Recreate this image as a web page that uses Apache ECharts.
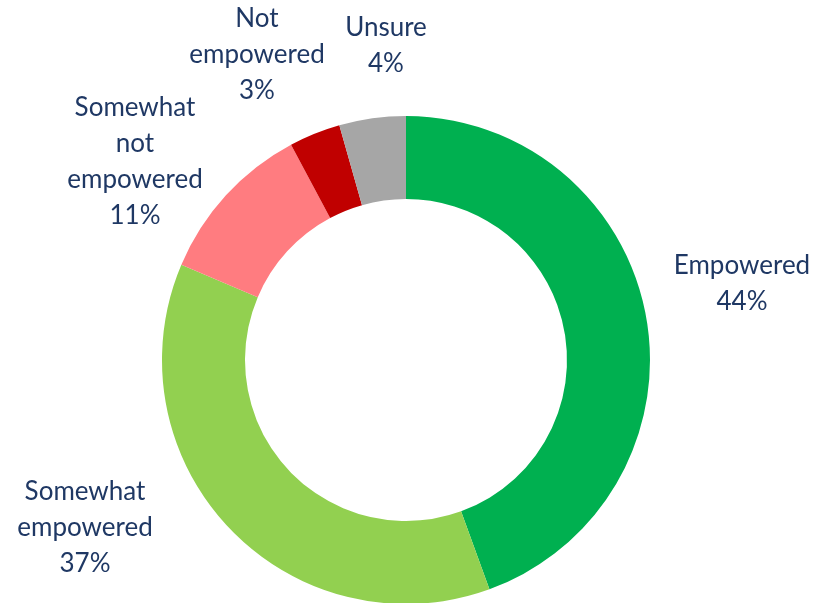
<!DOCTYPE html>
<html><head><meta charset="utf-8">
<script src="https://cdn.jsdelivr.net/npm/echarts@6/dist/echarts.min.js"></script>
<style>html,body{margin:0;padding:0;background:#fff}#c{width:813px;height:603px}</style>
</head><body><div id="c"></div>
<script>
const categories = ['Empowered', 'Somewhat empowered', 'Somewhat not empowered', 'Not empowered', 'Unsure'];
const labelNames = ['Empowered', 'Somewhat\nempowered', 'Somewhat\nnot\nempowered', 'Not\nempowered', 'Unsure'];
const values = [44.4, 36.9, 10.8, 3.4, 4.4];
const colors = ['#00B050', '#92D050', '#FF7C80', '#C00000', '#A6A6A6'];
const labelPos = [[742, 284], [85, 528], [135, 162], [257, 55], [386, 46]];

const chart = echarts.init(document.getElementById('c'));
chart.setOption({
  animation: false,
  series: [{
    type: 'pie',
    center: [406, 360],
    radius: [161, 244],
    startAngle: 90,
    clockwise: true,
    data: categories.map((n, i) => ({ name: n, value: values[i], itemStyle: { color: colors[i] } })),
    label: {
      show: true,
      formatter: p => labelNames[p.dataIndex] + '\n' + Math.round(p.value) + '%',
      color: '#1F3864',
      fontFamily: 'Lato',
      fontSize: 26,
      lineHeight: 36,
      align: 'center',
      overflow: 'none',
      width: 300
    },
    labelLine: { show: false },
    labelLayout: p => ({ x: labelPos[p.dataIndex][0], y: labelPos[p.dataIndex][1], align: 'center', verticalAlign: 'middle' })
  }]
});
</script></body></html>
